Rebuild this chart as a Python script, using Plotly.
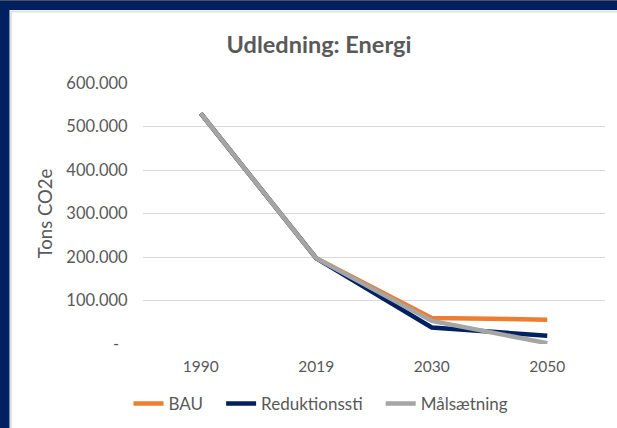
import plotly.graph_objects as go

years = ["1990", "2019", "2030", "2050"]
bau = [530000, 197000, 60000, 56000]
reduktionssti = [530000, 197000, 38000, 19000]
maalsaetning = [530000, 197000, 53000, 2000]

tick_vals = [0, 100000, 200000, 300000, 400000, 500000, 600000]
tick_text = ["-\u00a0\u00a0", "100.000", "200.000", "300.000", "400.000", "500.000", "600.000"]

font = "Lato"
grey_txt = "#595959"
navy = "#002060"
pad = "\u00a0" * 3  # extra room between legend entries

fig = go.Figure()
fig.add_trace(go.Scatter(x=years, y=bau, name="BAU" + pad, mode="lines",
                         line=dict(color="#ED7D31", width=4.5)))
fig.add_trace(go.Scatter(x=years, y=reduktionssti, name="Reduktionssti" + pad, mode="lines",
                         line=dict(color=navy, width=4.5)))
fig.add_trace(go.Scatter(x=years, y=maalsaetning, name="Målsætning", mode="lines",
                         line=dict(color="#A5A5A5", width=4.5)))

# plot area: x 143..605, y 83..344 (px)
W, H = 617, 428
L, R, T, B = 143, 12, 83, 84
pw, ph = W - L - R, H - T - B

def px_x(p):
    return (p - L) / pw

def px_y(p):
    return (H - B - p) / ph

# navy frame on top and left, thin grey card border
fig.add_shape(type="rect", xref="paper", yref="paper", layer="below",
              x0=px_x(0), x1=px_x(W), y0=px_y(10), y1=px_y(0),
              fillcolor=navy, line=dict(width=0))
fig.add_shape(type="rect", xref="paper", yref="paper", layer="below",
              x0=px_x(0), x1=px_x(9.5), y0=px_y(H), y1=px_y(0),
              fillcolor=navy, line=dict(width=0))
fig.add_shape(type="rect", xref="paper", yref="paper", layer="below",
              x0=px_x(0), x1=px_x(W), y0=px_y(1), y1=px_y(0),
              fillcolor="#4a5068", line=dict(width=0))
fig.add_shape(type="line", xref="paper", yref="paper", layer="below",
              x0=px_x(11), x1=px_x(W), y0=px_y(11.5), y1=px_y(11.5),
              line=dict(color="#e2e2e2", width=2))
fig.add_shape(type="line", xref="paper", yref="paper", layer="below",
              x0=px_x(11), x1=px_x(11), y0=px_y(H), y1=px_y(11),
              line=dict(color="#e2e2e2", width=2))

fig.update_layout(
    width=W, height=H,
    margin=dict(l=L, r=R, t=T, b=B, autoexpand=False),
    paper_bgcolor="white",
    plot_bgcolor="rgba(0,0,0,0)",
    font=dict(family=font, color=grey_txt),
    title=dict(text="<b>Udledning: Energi</b>", x=319 / W, xanchor="center",
               y=1 - 45 / H, yanchor="middle",
               font=dict(size=23.5, color=grey_txt, family=font)),
    showlegend=True,
    legend=dict(orientation="h", x=px_x(321), xanchor="center",
                yref="container", y=1 - 404 / H, yanchor="middle",
                font=dict(size=17, color=grey_txt, family=font),
                bgcolor="rgba(0,0,0,0)", traceorder="normal"),
)
fig.update_xaxes(type="category", range=[-0.5, 3.5], showgrid=False,
                 showline=False, zeroline=False,
                 ticks="outside", ticklen=8, tickcolor="rgba(0,0,0,0)",
                 tickfont=dict(size=15.5, color=grey_txt, family=font))
fig.update_yaxes(range=[0, 600000], tickvals=tick_vals, ticktext=tick_text,
                 showgrid=True, gridcolor="#d9d9d9", gridwidth=1,
                 zeroline=False, showline=False,
                 ticks="outside", ticklen=11, tickcolor="rgba(0,0,0,0)",
                 tickfont=dict(size=16.5, color=grey_txt, family=font),
                 title=dict(text="Tons CO2e", standoff=8,
                            font=dict(size=18.5, color=grey_txt, family=font)))

fig.write_html("out.html",
               config={"displayModeBar": False},
               post_script="document.body.style.margin='0';"
                           "document.body.style.background='white';")
